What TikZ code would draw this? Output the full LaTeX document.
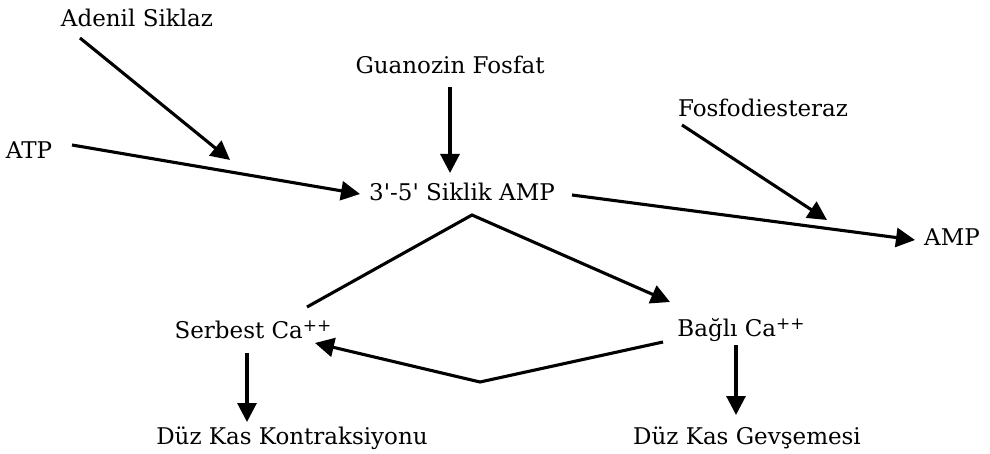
\documentclass[tikz,border=0pt]{standalone}
\usepackage{fontspec}
\setmainfont{DejaVu Serif}
\usetikzlibrary{arrows.meta,calc}
\newcommand{\plusplus}{\raisebox{0.6ex}{\fontsize{17}{17}\selectfont ++}}
\begin{document}
\begin{tikzpicture}[x=1pt,y=-1pt,
  lbl/.style={inner sep=0pt,font=\fontsize{23}{27}\selectfont},
  conn/.style={line width=3.1pt,line join=miter},
  arr/.style={conn,-{Triangle[length=19pt,width=19pt]}}]
\useasboundingbox (0,0) rectangle (990,454);
\fill[white] (0,0) rectangle (990,454);
% nodes
\node[lbl] (adenil) at (137,18) {Adenil Siklaz};
\node[lbl] (guan) at (450,65) {Guanozin Fosfat};
\node[lbl] (fosfo) at (763,108) {Fosfodiesteraz};
\node[lbl] (atp) at (29,150) {ATP};
\node[lbl] (camp) at (462,192) {3\textquotesingle-5\textquotesingle{} Siklik AMP};
\node[lbl] (amp) at (952,237) {AMP};
\node[lbl] (serbest) at (253,330) {Serbest Ca\plusplus};
\node[lbl] (bagli) at (741,330) {Bağlı Ca\plusplus};
\node[lbl] (kontr) at (292,438) {Düz Kas Kontraksiyonu};
\node[lbl] (gevs) at (747,438) {Düz Kas Gevşemesi};
% free ends / bends
\coordinate (adtip) at (230,160);
\coordinate (fotip) at (827,220);
\coordinate (peak) at (472,215);
\coordinate (bottom) at (480,382);
% connectors
\draw[arr] ($(adenil)+(-57,20)$) -- (adtip);
\draw[arr] ($(atp)+(43,-5)$) -- ($(camp)+(-102,2)$);
\draw[arr] ($(guan)+(0,22)$) -- ($(camp)+(-12,-19)$);
\draw[arr] ($(fosfo)+(-81,17)$) -- (fotip);
\draw[arr] ($(camp)+(110,3)$) -- ($(amp)+(-37,3)$);
\draw[arr] ($(serbest)+(54,-23)$) -- (peak) -- ($(bagli)+(-71,-28)$);
\draw[arr] ($(bagli)+(-78,12)$) -- (bottom) -- ($(serbest)+(62,13)$);
\draw[arr] ($(serbest)+(-6,23)$) -- ($(kontr)+(-45,-16)$);
\draw[arr] ($(bagli)+(-5,15)$) -- ($(gevs)+(-11,-23)$);
\end{tikzpicture}
\end{document}
